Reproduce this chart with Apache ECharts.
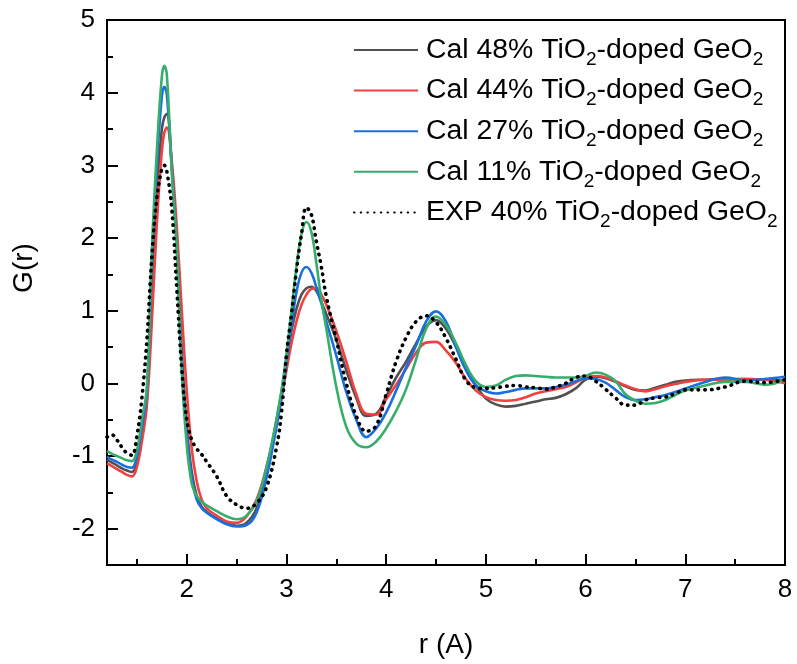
<!DOCTYPE html>
<html><head><meta charset="utf-8">
<script src="https://cdn.jsdelivr.net/npm/echarts@6/dist/echarts.min.js"></script>
<style>html,body{margin:0;padding:0;background:#fff}#c{width:797px;height:664px}</style>
</head><body><div id="c"></div>
<script>
const rGrid = [1.2,1.25,1.3,1.35,1.4,1.45,1.5,1.55,1.6,1.65,1.7,1.75,1.775,1.8,1.85,1.9,1.95,2.0,2.05,2.1,2.15,2.2,2.3,2.4,2.5,2.6,2.7,2.8,2.9,2.95,3.0,3.05,3.1,3.15,3.2,3.25,3.3,3.35,3.4,3.5,3.6,3.7,3.8,3.9,4.0,4.1,4.2,4.3,4.4,4.5,4.6,4.7,4.8,4.9,5.0,5.1,5.2,5.3,5.4,5.5,5.6,5.7,5.8,5.9,6.0,6.1,6.2,6.3,6.4,6.5,6.6,6.7,6.8,6.9,7.0,7.2,7.4,7.6,7.8,8.0];

const gCal48 = [-1.05,-1.09,-1.13,-1.17,-1.2,-1.22,-1.08,-0.7,-0.22,1.3,2.65,3.5,3.66,3.71,3.0,1.95,0.45,-0.6,-1.22,-1.55,-1.7,-1.77,-1.86,-1.93,-1.96,-1.92,-1.72,-1.22,-0.5,-0.12,0.3,0.72,1.02,1.22,1.31,1.33,1.27,1.12,0.95,0.6,0.18,-0.2,-0.45,-0.42,-0.18,0.08,0.3,0.55,0.78,0.87,0.75,0.5,0.2,-0.03,-0.21,-0.29,-0.32,-0.31,-0.28,-0.25,-0.22,-0.2,-0.15,-0.07,0.05,0.09,0.07,0.02,-0.04,-0.09,-0.1,-0.06,-0.02,0.02,0.04,0.05,0.06,0.06,0.05,0.04];

const gCal44 = [-1.1,-1.14,-1.18,-1.22,-1.26,-1.28,-1.15,-0.8,-0.3,0.85,2.2,3.2,3.45,3.52,3.05,2.15,1.0,-0.1,-0.9,-1.35,-1.6,-1.72,-1.82,-1.9,-1.92,-1.83,-1.6,-1.15,-0.55,-0.2,0.18,0.55,0.85,1.08,1.22,1.3,1.31,1.22,1.08,0.72,0.3,-0.15,-0.42,-0.43,-0.22,-0.02,0.2,0.42,0.56,0.57,0.45,0.28,0.06,-0.1,-0.19,-0.23,-0.24,-0.23,-0.19,-0.14,-0.11,-0.08,-0.05,0.01,0.08,0.1,0.08,0.03,-0.03,-0.08,-0.11,-0.08,-0.04,-0.01,0.02,0.05,0.05,0.06,0.05,0.0];

const gCal27 = [-1.01,-1.05,-1.08,-1.12,-1.15,-1.16,-1.0,-0.6,-0.12,1.65,3.0,3.95,4.08,3.98,2.95,1.85,0.3,-0.7,-1.3,-1.6,-1.72,-1.78,-1.87,-1.94,-1.97,-1.95,-1.78,-1.3,-0.6,-0.2,0.3,0.8,1.25,1.52,1.6,1.52,1.32,1.1,0.85,0.38,-0.12,-0.5,-0.74,-0.62,-0.4,-0.1,0.22,0.52,0.85,0.99,0.85,0.5,0.18,-0.03,-0.11,-0.14,-0.12,-0.09,-0.07,-0.07,-0.07,-0.05,-0.02,0.03,0.07,0.06,0.01,-0.09,-0.19,-0.23,-0.22,-0.19,-0.16,-0.12,-0.07,0.02,0.08,0.04,0.06,0.09];

const gCal11 = [-0.93,-0.97,-1.0,-1.03,-1.06,-1.07,-0.92,-0.5,-0.05,1.85,3.2,4.22,4.37,4.25,2.9,1.85,0.15,-0.85,-1.38,-1.55,-1.63,-1.68,-1.76,-1.83,-1.87,-1.82,-1.62,-1.15,-0.5,-0.1,0.4,1.0,1.6,2.05,2.22,2.08,1.65,1.15,0.75,-0.05,-0.6,-0.83,-0.88,-0.8,-0.62,-0.38,-0.08,0.33,0.75,0.92,0.8,0.55,0.25,0.03,-0.05,-0.03,0.05,0.1,0.11,0.1,0.09,0.08,0.08,0.08,0.1,0.15,0.12,0.03,-0.15,-0.24,-0.28,-0.27,-0.23,-0.16,-0.1,-0.03,0.02,0.02,-0.02,0.05];

const gExp40 = [-0.74,-0.71,-0.78,-0.88,-0.96,-0.99,-0.72,-0.2,0.6,1.75,2.55,2.95,3.0,2.92,2.4,1.3,0.2,-0.5,-0.78,-0.9,-0.98,-1.08,-1.28,-1.55,-1.67,-1.72,-1.65,-1.43,-0.88,-0.4,0.4,0.95,1.55,2.05,2.42,2.32,1.95,1.6,1.19,0.6,0.0,-0.45,-0.66,-0.58,-0.15,0.3,0.63,0.85,0.93,0.84,0.62,0.33,0.04,-0.06,-0.07,-0.06,-0.04,-0.03,-0.05,-0.06,-0.08,-0.05,0.0,0.08,0.1,0.03,-0.08,-0.2,-0.3,-0.3,-0.23,-0.2,-0.19,-0.14,-0.09,-0.09,-0.05,0.03,0.01,0.05];

const seriesNames = ['Cal 48% TiO2-doped GeO2','Cal 44% TiO2-doped GeO2','Cal 27% TiO2-doped GeO2','Cal 11% TiO2-doped GeO2','EXP 40% TiO2-doped GeO2'];
const seriesValues = [gCal48, gCal44, gCal27, gCal11, gExp40];
const seriesColors = ['#515151','#F14040','#1A6FDF','#37AD6B','#000000'];

const xMajorTicks = [2,3,4,5,6,7,8];
const xMinorTicks = [1.5,2.5,3.5,4.5,5.5,6.5,7.5];
const yMajorTicks = [-2,-1,0,1,2,3,4,5];
const yMinorTicks = [-1.5,-0.5,0.5,1.5,2.5,3.5,4.5];

const FONT = 'Liberation Sans, Arial, Helvetica, sans-serif';
const gridPos = {left:107, right:12, top:20, bottom:99};

const series = seriesNames.map((name, i) => ({
  name: name,
  type: 'line',
  xAxisIndex: 0, yAxisIndex: 0,
  data: rGrid.map((r, k) => [r, seriesValues[i][k]]),
  symbol: 'none',
  smooth: 0.4,
  z: 2 + i,
  color: seriesColors[i],
  lineStyle: i === 4
    ? {color: seriesColors[i], width: 3.6, type: [0.5, 6.2], cap: 'round'}
    : {color: seriesColors[i], width: 2.6},
  emphasis: {disabled: true}
}));

const chart = echarts.init(document.getElementById('c'), null, {renderer: 'canvas'});
chart.setOption({
  animation: false,
  backgroundColor: '#fff',
  grid: [
    Object.assign({show: true, borderColor: '#000', borderWidth: 2, backgroundColor: 'transparent', containLabel: false}, gridPos),
    Object.assign({show: false, containLabel: false}, gridPos)
  ],
  xAxis: [
    {
      type: 'value', gridIndex: 0, min: 1.2, max: 8,
      axisLine: {show: true, onZero: false, lineStyle: {color: '#000', width: 2}},
      axisTick: {show: true, inside: true, length: 11, customValues: xMajorTicks, lineStyle: {color: '#000', width: 2}},
      axisLabel: {show: true, customValues: xMajorTicks, fontSize: 26, color: '#000', fontFamily: FONT, margin: 12},
      splitLine: {show: false},
      name: 'r (A)', nameLocation: 'middle', nameGap: 66,
      nameTextStyle: {fontSize: 28, color: '#000', fontFamily: FONT}
    },
    {
      type: 'value', gridIndex: 1, min: 1.2, max: 8,
      axisLine: {show: false, onZero: false},
      axisTick: {show: true, inside: true, length: 6, customValues: xMinorTicks, lineStyle: {color: '#000', width: 2}},
      axisLabel: {show: false},
      splitLine: {show: false}
    }
  ],
  yAxis: [
    {
      type: 'value', gridIndex: 0, min: -2.5, max: 5,
      axisLine: {show: true, onZero: false, lineStyle: {color: '#000', width: 2}},
      axisTick: {show: true, inside: true, length: 11, customValues: yMajorTicks, lineStyle: {color: '#000', width: 2}},
      axisLabel: {show: true, customValues: yMajorTicks, fontSize: 26, color: '#000', fontFamily: FONT, margin: 12},
      splitLine: {show: false}
    },
    {
      type: 'value', gridIndex: 1, min: -2.5, max: 5,
      axisLine: {show: false, onZero: false},
      axisTick: {show: true, inside: true, length: 6, customValues: yMinorTicks, lineStyle: {color: '#000', width: 2}},
      axisLabel: {show: false},
      splitLine: {show: false}
    }
  ],
  legend: {
    show: true,
    orient: 'vertical',
    left: 353, top: 36, padding: 0,
    itemWidth: 64, itemHeight: 14, itemGap: 7.6,
    selectedMode: false,
    data: seriesNames,
    itemStyle: {opacity: 0},
    formatter: function (name) {
      return '{f|}{n|' + name.replace(/O2/g, 'O}{s|2}{n|') + '}';
    },
    textStyle: {
      color: '#000',
      rich: {
        f: {width: 3, fontSize: 28.4, lineHeight: 38},
        n: {fontSize: 28.4, lineHeight: 38, fontFamily: FONT, color: '#000'},
        s: {fontSize: 19, lineHeight: 19, verticalAlign: 'bottom', fontFamily: FONT, color: '#000'}
      }
    }
  },
  graphic: [
    {
      type: 'text', x: 24, y: 268, rotation: Math.PI / 2,
      style: {text: 'G(r)', fontSize: 28, fontFamily: FONT, fill: '#000', align: 'center', verticalAlign: 'middle'}
    }
  ],
  series: series
});
</script>
</body></html>
